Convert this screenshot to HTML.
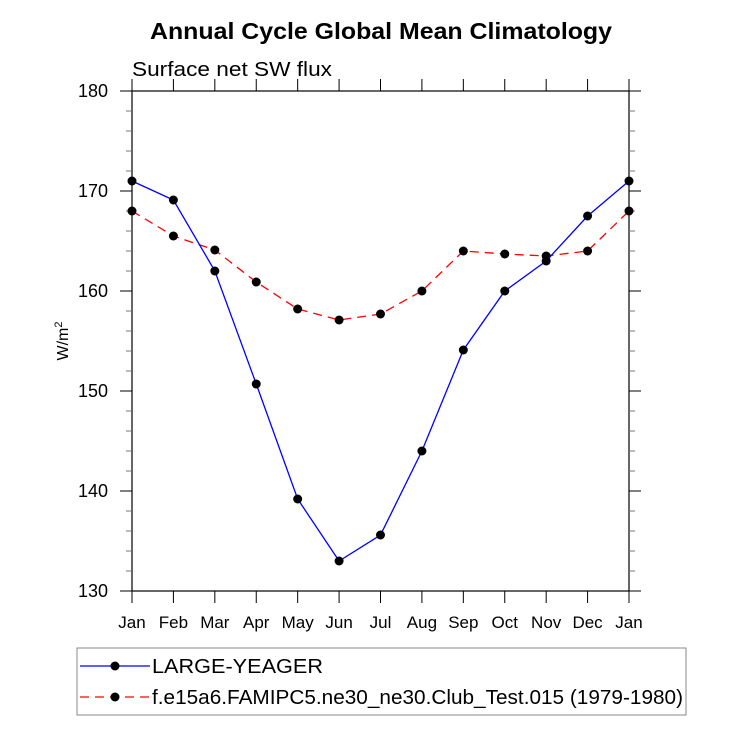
<!DOCTYPE html>
<html><head><meta charset="utf-8"><style>
body{margin:0;background:#fff;}
svg text{font-family:"Liberation Sans",Arial,sans-serif;}
</style></head><body>
<svg id="c" width="733" height="734" xmlns="http://www.w3.org/2000/svg">
<text x="150" y="39" textLength="462" lengthAdjust="spacingAndGlyphs" font-size="23" font-weight="bold">Annual Cycle Global Mean Climatology</text>
<text x="132" y="76" textLength="200" lengthAdjust="spacingAndGlyphs" font-size="20">Surface net SW flux</text>
<text transform="translate(68,341) rotate(-90)" text-anchor="middle" font-size="16">W/m<tspan dy="-6" font-size="11">2</tspan></text>
<rect x="132" y="91" width="497" height="500" fill="none" stroke="#000" stroke-width="1.2"/>
<g id="axes"></g>
<g id="series"></g>
<rect x="77" y="648" width="609" height="67" fill="#fff" stroke="#888"/>
<g>
<line x1="80" y1="666" x2="150" y2="666" stroke="#00f" stroke-width="1.3"/>
<circle cx="115" cy="666" r="4.5" fill="#000"/>
<text x="152" y="673" textLength="171" lengthAdjust="spacingAndGlyphs" font-size="20">LARGE-YEAGER</text></g>
<g>
<line x1="80" y1="697" x2="150" y2="697" stroke="#f00" stroke-width="1.3" stroke-dasharray="9,6"/>
<circle cx="115" cy="697" r="4.5" fill="#000"/>
<text x="152" y="704" textLength="531" lengthAdjust="spacingAndGlyphs" font-size="20">f.e15a6.FAMIPC5.ne30_ne30.Club_Test.015 (1979-1980)</text></g>
</svg>
<script>
const months=["Jan","Feb","Mar","Apr","May","Jun","Jul","Aug","Sep","Oct","Nov","Dec","Jan"];
const largeYeager=[171,169.1,162,150.7,139.2,133,135.6,144,154.1,160,163,167.5,171];
const clubTest=[168,165.5,164.1,160.9,158.2,157.1,157.7,160,164,163.7,163.5,164,168];
const yTicks=[130,140,150,160,170,180];
const NS="http://www.w3.org/2000/svg";
const X0=132,X1=629,Y0=591,Y1=91,ymin=130,ymax=180;
function xs(i){return X0+(X1-X0)*i/(months.length-1);}
function ys(v){return Y0-(v-ymin)/(ymax-ymin)*(Y0-Y1);}
function mk(t,a,p){const e=document.createElementNS(NS,t);for(const k in a)e.setAttribute(k,a[k]);p.appendChild(e);return e;}
const ax=document.getElementById("axes");
months.forEach((m,i)=>{
 const x=xs(i);
 const t=mk("line",{x1:x,y1:Y0,x2:x,y2:Y0+12,stroke:"#000"},ax);
 
 
 mk("line",{x1:x,y1:Y1,x2:x,y2:Y1-12,stroke:"#000"},ax);
 const l=mk("text",{x:x,y:628,"text-anchor":"middle","font-size":"17"},ax);
 l.textContent=m;
 
 
});
for(let v=ymin;v<=ymax;v+=2){
 const y=ys(v),maj=(v%10===0);
 const len=maj?12:6,col=maj?"#000":"#777";
 mk("line",{x1:X0-len,y1:y,x2:X0,y2:y,stroke:col},ax);
 mk("line",{x1:X1+len,y1:y,x2:X1,y2:y,stroke:col},ax);
}
yTicks.forEach(v=>{
 const l=mk("text",{x:108,y:ys(v)+6,"text-anchor":"end","font-size":"18"},ax);
 l.textContent=v;
 
 
});
const sg=document.getElementById("series");
function draw(data,color,dash,name){
 const p=mk("polyline",{points:data.map((v,i)=>xs(i)+","+ys(v)).join(" "),fill:"none",stroke:color,"stroke-width":"1.3","stroke-dasharray":dash},sg);
 
 
 data.forEach((v,i)=>{
  const c=mk("circle",{cx:xs(i),cy:ys(v),r:4.5,fill:"#000"},sg);
  
  
 });
}
draw(clubTest,"#f00","9,6","club-test");
draw(largeYeager,"#00f","none","large-yeager");
</script>
</body></html>
